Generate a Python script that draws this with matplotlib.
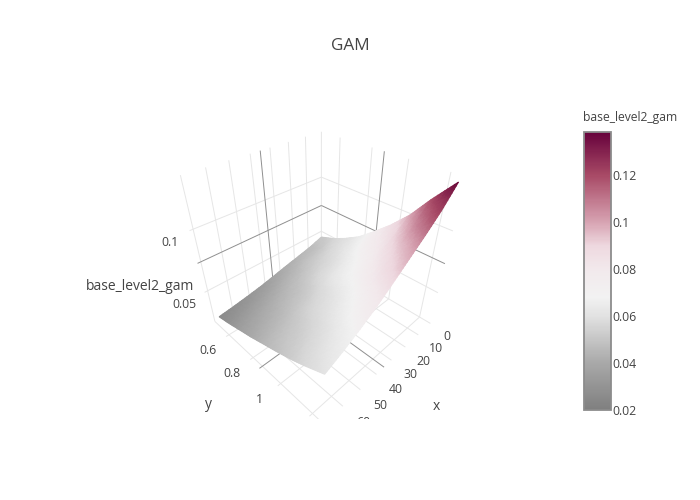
import numpy as np
import matplotlib
matplotlib.use('Agg')
import matplotlib.pyplot as plt
from matplotlib.colors import LinearSegmentedColormap, Normalize
from matplotlib.cm import ScalarMappable
from matplotlib.tri import Triangulation, UniformTriRefiner
from mpl_toolkits.mplot3d import proj3d

plt.rcParams['font.family'] = ['Open Sans', 'DejaVu Sans']

# surface values, one row per x, one column per y
x_vals = [0, 8.5, 17, 25.5, 34, 42, 50.5, 59, 67.5]
y_vals = [0.47, 0.57, 0.66, 0.76, 0.85, 0.95, 1.05, 1.14, 1.24]
z_vals = [
    [.0440, .0490, .0550, .0630, .0730, .0850, .0990, .1150, .1310],
    [.0400, .0450, .0520, .0600, .0690, .0790, .0910, .1050, .1180],
    [.0370, .0425, .0480, .0550, .0635, .0725, .0835, .0950, .1075],
    [.0342, .0391, .0444, .0511, .0588, .0673, .0766, .0867, .0978],
    [.0311, .0355, .0404, .0458, .0525, .0602, .0687, .0780, .0881],
    [.0283, .0324, .0369, .0418, .0472, .0539, .0616, .0701, .0793],
    [.0259, .0297, .0338, .0383, .0432, .0486, .0553, .0629, .0714],
    [.0238, .0273, .0311, .0352, .0397, .0446, .0499, .0566, .0643],
    [.0220, .0252, .0287, .0325, .0366, .0410, .0459, .0513, .0580],
]

x_ticks = [0, 10, 20, 30, 40, 50, 60]
x_grid = x_ticks + [70]
y_ticks = [0.6, 0.8, 1.0]
y_labels = ['0.6', '0.8', '1']
y_grid = y_ticks + [1.2]
z_ticks = [0.05, 0.1]
z_labels = ['0.05', '0.1']
cbar_ticks = [0.02, 0.04, 0.06, 0.08, 0.1, 0.12]
cbar_labels = ['0.02', '0.04', '0.06', '0.08', '0.1', '0.12']

# hover spikes
spike_x, spike_y, spike_z = 35, 0.87, 0.075

x_lim = (0, 71.5)
y_lim = (0.47, 1.265)
z_lim = (0.02, 0.1354)
z_min, z_max = 0.02, 0.1383

cmap_vals = [0.02, 0.04, 0.06, 0.068, 0.08, 0.09, 0.1, 0.12, 0.1383]
cmap_cols = ['#7f7f7f', '#a9a9a9', '#e2e2e2', '#f2f2f2', '#f2e9ec', '#eed8df',
             '#d7a3b2', '#a84a66', '#67023c']
# surface is a bit brighter than its colorbar, lighting in the original
lit_vals = [0.02, 0.036, 0.05, 0.06, 0.068, 0.08, 0.09, 0.1, 0.116, 0.131, 0.1383]
lit_cols = ['#868686', '#b4b4b4', '#d8d8d8', '#e8e8e8', '#f2f2f2', '#f2e9ec', '#eed8df',
            '#d7a3b2', '#a84a66', '#6a0638', '#67023c']

TXT = '#444444'
GRID = '#e6e6e6'
DARK = '#8f8f8f'

norm = Normalize(z_min, z_max)
cmap = LinearSegmentedColormap.from_list(
    'gam', [((v - z_min) / (z_max - z_min), c) for v, c in zip(cmap_vals, cmap_cols)])
lit_cmap = LinearSegmentedColormap.from_list(
    'gam_lit', [((v - z_min) / (z_max - z_min), c) for v, c in zip(lit_vals, lit_cols)])

fig = plt.figure(figsize=(7, 5), dpi=100)
fig.text(350 / 700, 1 - 46 / 500, 'GAM', ha='center', va='center', fontsize=12.3, color=TXT)

# 3d axes only gives the camera, everything is drawn on the 2d overlay
ax3d = fig.add_axes([.1, .1, .8, .8], projection='3d')
ax3d.set_xlim(*x_lim)
ax3d.set_ylim(*y_lim)
ax3d.set_zlim(*z_lim)
ax3d.set_box_aspect((1, 1, 1.01))
ax3d.view_init(elev=36.03, azim=45.125)
ax3d.set_proj_type('persp', focal_length=0.2316)
ax3d.set_axis_off()
M = ax3d.get_proj()
k, cx, cy = 1605.67, 321.16, 260.18


def to_px(xs, ys, zs):
    tx, ty, _ = proj3d.proj_transform(np.ravel(xs).astype(float), np.ravel(ys).astype(float),
                                      np.ravel(zs).astype(float), M)
    return cx + k * tx, cy - k * ty


ov = fig.add_axes([80 / 700, 1 - 419 / 500, 480 / 700, 319 / 500])
ov.axis('off')


def line3(xs, ys, zs, col=GRID, lw=0.7):
    px, py = to_px(xs, ys, zs)
    ov.plot(px, py, color=col, lw=lw, solid_capstyle='butt', zorder=2)


x0, x1 = x_lim
y0, y1 = y_lim
z0, z1 = z_lim
for v in x_grid:
    line3([v, v], [y0, y1], [z0, z0])
    line3([v, v], [y0, y0], [z0, z1])
for v in y_grid:
    line3([x0, x1], [v, v], [z0, z0])
    line3([x0, x0], [v, v], [z0, z1])
for v in z_ticks:
    line3([x0, x1], [y0, y0], [v, v])
    line3([x0, x0], [y0, y1], [v, v])

line3([spike_x, spike_x], [y0, y1], [z0, z0], DARK)
line3([spike_x, spike_x], [y0, y0], [z0, z1], DARK)
line3([x0, x1], [spike_y, spike_y], [z0, z0], DARK)
line3([x0, x0], [spike_y, spike_y], [z0, z1], DARK)
line3([x0, x1], [y0, y0], [spike_z, spike_z], DARK)
line3([x0, x0], [y0, y1], [spike_z, spike_z], DARK)

# surface, mesh subdivided only so the colormap is evaluated finer than the cells
xx, yy = np.meshgrid(x_vals, y_vals, indexing='ij')
zz = np.array(z_vals)
px, py = to_px(xx, yy, zz)
nx, ny = zz.shape
tris = []
for i in range(nx - 1):
    for j in range(ny - 1):
        a = i * ny + j
        b = a + 1
        c = a + ny
        d = c + 1
        tris += [[a, b, c], [b, d, c]]
fine_tri, fine_z = UniformTriRefiner(Triangulation(px, py, tris)).refine_field(zz.ravel(), subdiv=3)
ov.tripcolor(fine_tri, fine_z, shading='gouraud', cmap=lit_cmap, norm=norm, zorder=3)
ov.set_xlim(80, 560)
ov.set_ylim(419, 100)

# tick labels
for v in x_ticks:
    px, py = to_px([v], [y1], [z0])
    ov.text(px[0] + 17 + v * 0.06, py[0] + 13 + v * 0.05, str(v), ha='center', va='center',
            fontsize=8.8, color=TXT, clip_on=True)
for v, s in zip(y_ticks, y_labels):
    px, py = to_px([x1], [v], [z0])
    ov.text(px[0] - 18, py[0] + 14, s, ha='center', va='center', fontsize=8.8, color=TXT, clip_on=True)
for v, s in zip(z_ticks, z_labels):
    px, py = to_px([x1], [y0], [v])
    ov.text(px[0] - 20, py[0] + 12, s, ha='center', va='center', fontsize=8.8, color=TXT, clip_on=True)

fig.text(436 / 700, 1 - 407 / 500, 'x', ha='center', va='center', fontsize=10, color=TXT)
fig.text(208 / 700, 1 - 404 / 500, 'y', ha='center', va='center', fontsize=10, color=TXT)
fig.text(140 / 700, 1 - 286.5 / 500, 'base_level2_gam', ha='center', va='center', fontsize=10, color=TXT)

# colorbar
cax = fig.add_axes([584 / 700, 1 - 410 / 500, 27 / 700, 278 / 500])
cb = fig.colorbar(ScalarMappable(norm=norm, cmap=cmap), cax=cax)
cb.set_ticks(cbar_ticks, labels=cbar_labels)
cb.ax.tick_params(length=0, pad=1, labelsize=8.8, labelcolor=TXT)
cb.outline.set_edgecolor('#8c8c8c')
cb.outline.set_linewidth(1.3)
fig.text(583 / 700, 1 - 118 / 500, 'base_level2_gam', ha='left', va='center', fontsize=8.7, color=TXT)

fig.savefig('out.png', dpi=100)
